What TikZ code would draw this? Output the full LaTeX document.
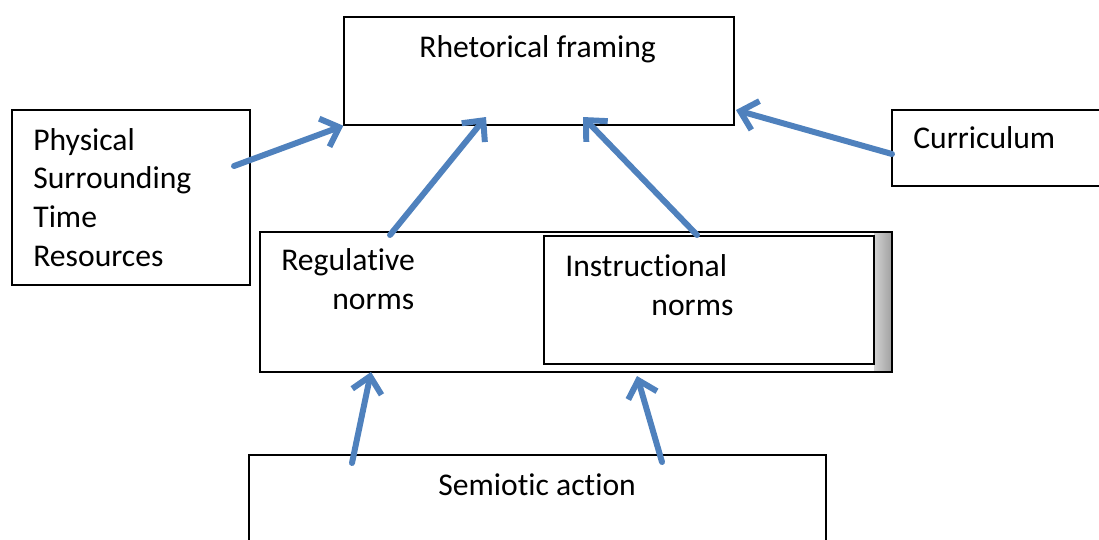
\documentclass[tikz,border=0pt]{standalone}
\usepackage{fontspec}
\setmainfont[Ligatures=NoCommon]{Carlito}
\usetikzlibrary{positioning, arrows.meta, fit}
\definecolor{arrowblue}{HTML}{4F81BD}
\tikzset{%
  x=0.02cm, y=-0.02cm, % one unit is one pixel of the sketch
  box/.style={draw, line width=0.8pt, inner sep=0pt}, % the plain frames
  txt/.style={anchor=base west, inner sep=0pt, align=left,
    font=\fontsize{18}{22}\selectfont}, % base = last line of the text
  every edge/.style={%
    draw, -{Straight Barb[length=9pt, width=17pt]}, line width=3.4pt,
    line cap=round, arrowblue
  }
}

\begin{document}
\begin{tikzpicture}
    \useasboundingbox (0,0) rectangle (1099,539);
    % frames
    \node[box, fit={(344,17) (734,125)}] (rf) {};
    \node[box, fit={(12,110) (250,285)}] (phys) {};
    \node[box, fit={(892,110) (1110,186)}] (curr) {};
    \shade[left color=gray!35, right color=gray!75] (874,232) rectangle (892,372);
    \node[box, fit={(260,232) (892,372)}] (norms) {};
    \node[box, fill=white, fit={(544,236) (874,364)}] (instr) {};
    \node[box, fit={(249,455) (826,550)}] (semio) {};
    % texts
    \node[txt] (rftext) at (419,57) {Rhetorical framing};
    \node[txt] (phystext) at (33,266) {Physical\\Surrounding\\Time\\Resources};
    \node[txt] (currtext) at (913,148) {Curriculum};
    \node[txt] (regtext) at (281,309) {Regulative\\\hspace*{29pt}norms};
    \node[txt] (instrtext) at (565,315) {Instructional\\\hspace*{49pt}norms};
    \node[txt] (semiotext) at (438,495) {Semiotic action};
    % arrow ends
    \coordinate (physout) at (234,166);
    \coordinate (regout) at (390,235);
    \coordinate (rfin1) at (486,117);
    \coordinate (instrout) at (697,235);
    \coordinate (rfin2) at (583,117);
    \coordinate (currout) at (892,154);
    \coordinate (rfin3) at (736,110);
    \coordinate (semout1) at (352,463);
    \coordinate (normsin1) at (371,372);
    \coordinate (semout2) at (662,462);
    \coordinate (normsin2) at (637,376);
    \draw (physout) edge (rf.south west);
    \draw (regout) edge (rfin1);
    \draw (instrout) edge (rfin2);
    \draw (currout) edge (rfin3);
    \draw (semout1) edge (normsin1);
    \draw (semout2) edge (normsin2);
\end{tikzpicture}
\end{document}
